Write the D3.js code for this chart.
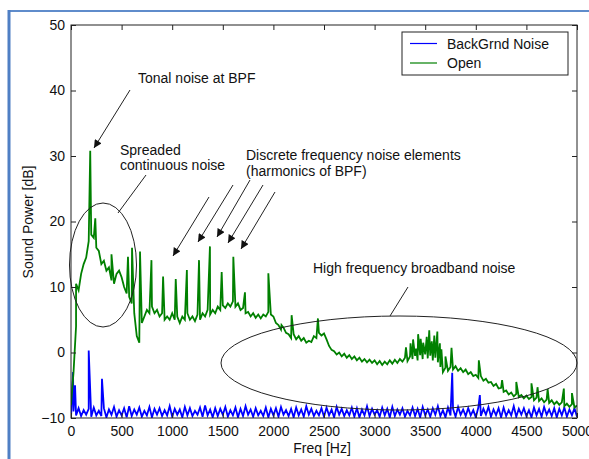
<!DOCTYPE html>
<meta charset="utf-8">
<html>
<head>
<title>Sound Power spectrum</title>
<script src="https://cdn.jsdelivr.net/npm/d3@7/dist/d3.min.js"></script>
<style>
body { margin: 0; background: #fff; }
svg text { font-family: Arial, "Liberation Sans", sans-serif; font-size: 14px; fill: #111; }
</style>
</head>
<body>
<div id="chart"></div>
<script>
// frequency grid step of the typed series (Hz)
var stepHz = 25;

// Open (green) - dB every 25 Hz, 0..5000
var openDb = [
 -8, -3, 4, 9.5, 12, 13.5, 14.5, 17, 18, 17.5, 16, 15.5, 13.5, 14, 12.5, 13, 11, 10.5, 12, 12.5,
 11.5, 10, 9, 8.5, 7.5, 6, 2.5, 1.5, 4.5, 5.5, 6.5, 6, 7, 6, 6.5, 5.5, 6, 5, 5.5, 5,
 6, 5, 5.5, 4.5, 5.5, 5, 6, 5, 5.5, 4.8, 5.8, 5, 6, 5.5, 6.5, 5.8, 6.5, 6, 7, 6.5,
 7.2, 6.8, 7.5, 7, 7.8, 7, 7.5, 6.5, 6.8, 6, 6.2, 5.5, 6, 5.3, 5.8, 5.2, 5.8, 5.5, 6.2, 5.8,
 5.5, 4.5, 4.2, 3.5, 3.8, 3, 2.8, 2.2, 2.8, 2, 2.5, 1.8, 2.2, 1.5, 1.8, 1.6, 2.5, 2.2, 3, 2.6,
 2.9, 2, 1, 0.4, 0.2, -0.3, 0, -0.6, -0.2, -0.8, -0.4, -1, -0.6, -1.2, -0.8, -1.4, -1, -1.5, -1.1, -1.6,
 -1.2, -1.8, -1.3, -1.9, -1.4, -1.8, -1.2, -1.7, -1.1, -1.6, -1, -1.4, -0.8, -1.3, -0.6, -1, -0.5, -1.2, -0.4, -1,
 -0.3, -0.9, -0.5, -1.2, -0.8, -1.5, -2.2, -3, -2.3, -2.8, -2.2, -2.6, -2.1, -2.8, -2.4, -3, -2.6, -3.3, -3, -3.6,
 -3.4, -3.9, -3.6, -4.3, -4, -4.6, -4.5, -5.1, -4.8, -5.5, -5.4, -6, -5.8, -6.4, -6.1, -6.7, -6.3, -6.8, -6.5, -7,
 -6.6, -7.1, -6.8, -7.3, -6.9, -7.4, -7, -7.6, -7.2, -7.7, -7.3, -7.9, -7.5, -8, -7.6, -8.2, -7.8, -8.3, -7.9, -8.4,
 -8.1
];
// tonal spikes of the Open series
var openPeakHz = [50, 190, 240, 400, 563, 603, 682, 795, 910, 1035, 1145, 1265, 1373, 1489, 1604, 1719, 1950, 2080, 2180, 2440,
  3310, 3355, 3380, 3410, 3430, 3455, 3480, 3515, 3540, 3565, 3590, 3620, 3645, 3660, 3700, 3760, 4030, 4260, 4400, 4550, 4610, 4710, 4870, 4950];
var openPeakDb = [10.5, 30.8, 20.5, 15, 14.6, 16, 15.4, 14.1, 11.6, 11.2, 12.6, 14.1, 16.2, 12.3, 14.6, 9.2, 12.1, 4.2, 5.7, 5.2,
  0.8, 1.4, 2, 0.6, 2.8, 2.1, 1.5, 2.4, 3.4, 1.7, 2.6, 3.2, 1.4, 0.5, -0.6, 0.7, -1.2, -4.2, -4.5, -4.7, -5.3, -5.6, -5.5, -6.2];

// BackGrnd Noise (blue) - dB every 25 Hz
var noiseDb = [
 -10, -9, -9.6, -8.5, -9.7, -8.8, -9.5, -8.6, -9.8, -8.4, -9.6, -8.9, -9.7, -8.5, -9.9, -8.7, -9.5, -8.3, -9.8, -8.8,
 -9.6, -8.5, -9.9, -8.2, -9.7, -8.7, -9.5, -8.4, -9.8, -8.9, -9.6, -8.3, -9.9, -8.6, -9.5, -8.5, -9.7, -8.8, -9.6, -8.2,
 -9.8, -8.6, -9.5, -8.7, -9.9, -8.3, -9.6, -8.5, -9.7, -8.9, -9.5, -8.4, -9.8, -8.1, -9.6, -8.7, -9.9, -8.5, -9.7, -8.6,
 -9.5, -8.3, -9.8, -8.8, -9.6, -8.4, -9.9, -8.6, -9.7, -8.2, -9.5, -8.7, -9.8, -8.5, -9.6, -8.9, -9.7, -8.4, -9.9, -8.6,
 -9.6, -8.5, -9.8, -8.3, -9.5, -8.8, -9.7, -8.6, -9.9, -8.4, -9.6, -8.7, -9.8, -8.2, -9.5, -8.6, -9.7, -8.9, -9.6, -8.5,
 -9.8, -8.4, -9.6, -8.7, -9.9, -8.3, -9.5, -8.6, -9.7, -8.8, -9.6, -8.4, -9.8, -8.5, -9.9, -8.7, -9.6, -8.2, -9.7, -8.6,
 -9.5, -8.8, -9.8, -8.4, -9.6, -8.6, -9.9, -8.3, -9.7, -8.7, -9.5, -8.5, -9.8, -8.9, -9.6, -8.4, -9.7, -8.6, -9.9, -8.3,
 -9.6, -8.7, -9.8, -8.5, -9.5, -8.2, -9.7, -8.8, -9.9, -8.4, -9.6, -8.6, -9.8, -8.3, -9.5, -8.7, -9.7, -8.5, -9.6, -8.8,
 -9.9, -8.4, -9.7, -8.6, -9.5, -8.3, -9.8, -8.7, -9.6, -8.5, -9.9, -8.4, -9.7, -8.8, -9.6, -8.2, -9.8, -8.6, -9.5, -8.5,
 -9.7, -8.8, -9.9, -8.4, -9.6, -8.6, -9.8, -8.3, -9.5, -8.7, -9.7, -8.5, -9.9, -8.6, -9.6, -8.4, -9.8, -8.7, -9.6, -8.5,
 -9.8
];
var noisePeakHz = [20, 40, 175, 306, 3767, 4040];
var noisePeakDb = [-3, -5, 0.3, -4, -3.1, -6.5];

var xTicks = [0, 500, 1000, 1500, 2000, 2500, 3000, 3500, 4000, 4500, 5000];
var yTicks = [-10, 0, 10, 20, 30, 40, 50];
var seriesNames = ["BackGrnd Noise", "Open"];
var seriesColors = ["#0000ff", "#008000"];

var W = 589, H = 459;
var svg = d3.select("#chart").append("svg").attr("width", W).attr("height", H);

// document frame
svg.append("rect").attr("width", W).attr("height", H).attr("fill", "#fff");
svg.append("line").attr("x1", 8).attr("x2", W).attr("y1", 11).attr("y2", 11)
   .attr("stroke", "#5f8ccb").attr("stroke-width", 2);
svg.append("line").attr("x1", 9).attr("x2", 9).attr("y1", 10).attr("y2", H)
   .attr("stroke", "#4f7fc4").attr("stroke-width", 3);

var x = d3.scaleLinear().domain([0, 5000]).range([71, 577]);
var y = d3.scaleLinear().domain([-10, 50]).range([418, 25]);

function buildSeries(vals, pkHz, pkDb) {
  var pts = vals.map(function (v, i) { return [i * stepHz, v]; });
  pkHz.forEach(function (f, i) { pts.push([f, pkDb[i]]); });
  pts.sort(function (a, b) { return a[0] - b[0]; });
  return pts;
}

svg.append("clipPath").attr("id", "plotclip").append("rect")
   .attr("x", 71).attr("y", 25).attr("width", 506).attr("height", 393);

var line = d3.line().x(function (d) { return x(d[0]); }).y(function (d) { return y(d[1]); });
var plot = svg.append("g").attr("clip-path", "url(#plotclip)");
plot.append("path").datum(buildSeries(noiseDb, noisePeakHz, noisePeakDb))
    .attr("d", line).attr("fill", "none").attr("stroke", seriesColors[0]).attr("stroke-width", 1.8);
plot.append("path").datum(buildSeries(openDb, openPeakHz, openPeakDb))
    .attr("d", line).attr("fill", "none").attr("stroke", seriesColors[1]).attr("stroke-width", 1.8);

// axes, ticks inward on all sides
var xb = svg.append("g").attr("transform", "translate(0,418)")
  .call(d3.axisBottom(x).tickValues(xTicks).tickSize(-5).tickPadding(8).tickFormat(d3.format("d")));
var xt = svg.append("g").attr("transform", "translate(0,25)")
  .call(d3.axisTop(x).tickValues(xTicks).tickSize(-5).tickFormat(""));
var yl = svg.append("g").attr("transform", "translate(71,0)")
  .call(d3.axisLeft(y).tickValues(yTicks).tickSize(-5).tickPadding(6).tickFormat(d3.format("d")));
var yr = svg.append("g").attr("transform", "translate(577,0)")
  .call(d3.axisRight(y).tickValues(yTicks).tickSize(-5).tickFormat(""));
[xb, xt, yl, yr].forEach(function (g) {
  g.select(".domain").remove();
  g.selectAll("line").attr("stroke", "#222");
  g.selectAll("text").attr("font-size", 14).attr("font-family", "Arial, 'Liberation Sans', sans-serif").attr("fill", "#111");
});
svg.append("rect").attr("x", 71).attr("y", 25).attr("width", 506).attr("height", 393)
   .attr("fill", "none").attr("stroke", "#222");

svg.append("text").attr("x", 322).attr("y", 453).attr("text-anchor", "middle").text("Freq [Hz]");
svg.append("text").attr("transform", "translate(33,222) rotate(-90)").attr("text-anchor", "middle").text("Sound Power [dB]");

// legend
var lg = svg.append("g");
lg.append("rect").attr("x", 402).attr("y", 32).attr("width", 166).attr("height", 43)
  .attr("fill", "#fff").attr("stroke", "#222");
seriesNames.forEach(function (n, i) {
  var ly = 43.5 + i * 19.5;
  lg.append("line").attr("x1", 410).attr("x2", 437).attr("y1", ly).attr("y2", ly)
    .attr("stroke", seriesColors[i]).attr("stroke-width", 1.2);
  lg.append("text").attr("x", 447).attr("y", ly + 5).text(n);
});

// annotations
var defs = svg.append("defs");
defs.append("marker").attr("id", "arr").attr("viewBox", "0 0 10 10").attr("refX", 10).attr("refY", 5)
  .attr("markerWidth", 9).attr("markerHeight", 8).attr("markerUnits", "userSpaceOnUse").attr("orient", "auto")
  .append("path").attr("d", "M0,0L10,5L0,10z").attr("fill", "#111");

var ann = svg.append("g").attr("stroke", "#222").attr("fill", "none");
function seg(x1, y1, x2, y2, arrow) {
  var l = ann.append("line").attr("x1", x1).attr("y1", y1).attr("x2", x2).attr("y2", y2);
  if (arrow) l.attr("marker-end", "url(#arr)");
}
seg(130, 90, 94, 148, true);
seg(209, 197, 173, 256, true);
seg(233, 185, 198, 242, true);
seg(250, 180, 217, 237, true);
seg(263, 185, 228, 243, true);
seg(275, 192, 241, 249, true);
seg(146, 175, 118, 213, false);
seg(408, 287, 390, 316, false);
ann.append("ellipse").attr("cx", 103).attr("cy", 265).attr("rx", 33.5).attr("ry", 62);
ann.append("ellipse").attr("cx", 399).attr("cy", 363).attr("rx", 178).attr("ry", 47);

function label(tx, ty, s) { svg.append("text").attr("x", tx).attr("y", ty).text(s); }
label(138, 83, "Tonal noise at BPF");
label(120, 155, "Spreaded");
label(120, 170, "continuous noise");
label(246, 160, "Discrete frequency noise elements");
label(246, 176, "(harmonics of BPF)");
label(313, 273, "High frequency broadband noise");
</script>
</body>
</html>
